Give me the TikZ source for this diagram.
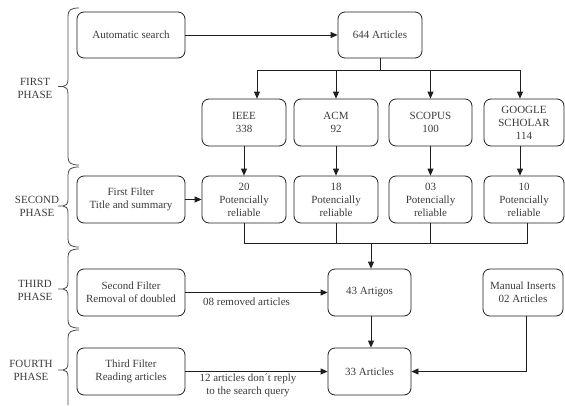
\documentclass[tikz,border=0pt]{standalone}
\usepackage{fontspec}
\setmainfont{Liberation Serif}
\usetikzlibrary{arrows.meta}
\definecolor{txt}{HTML}{3A3A3A}
\definecolor{lc}{HTML}{1E1E1E}
\tikzset{
  box/.style={draw=lc, line width=0.8pt, rounded corners=7pt, minimum height=47pt,
    inner sep=0pt, align=center, text=txt, font=\fontsize{11}{13}\selectfont},
  wide/.style={box, minimum width=108pt},
  src/.style={box, minimum width=84pt},
  arr/.style={draw=lc, line width=0.8pt, -{Triangle[length=7pt,width=6pt]}},
  plain/.style={draw=lc, line width=0.8pt},
  phase/.style={align=center, text=txt, font=\fontsize{11}{13}\selectfont, inner sep=0pt},
  lbl/.style={align=center, text=txt, font=\fontsize{11}{13}\selectfont, inner sep=1pt},
  brc/.style={draw=lc!80, line width=0.8pt},
}
\begin{document}
\begin{tikzpicture}[x=1pt,y=-1pt]
\useasboundingbox (0,0) rectangle (565,405);

% phase labels
\node[phase] (p1) at (35,88.5) {FIRST\\PHASE};
\node[phase] (p2) at (37,206) {SECOND\\PHASE};
\node[phase] (p3) at (35,290) {THIRD\\PHASE};
\node[phase] (p4) at (31,370.5) {FOURTH\\PHASE};

% braces
\draw[brc] (79,8) .. controls (71,8) and (68,10) .. (68,16) -- (68,79) .. controls (68,84) and (66,86.5) .. (63,86.5) -- (58,86.5);
\draw[brc] (63,86.5) .. controls (66,86.5) and (68,89) .. (68,94) -- (68,157) .. controls (68,163) and (71,165) .. (79,165);

\draw[brc] (79,167) .. controls (71,167) and (68,169) .. (68,175) -- (68,199) .. controls (68,204) and (66,206) .. (63,206) -- (58,206);
\draw[brc] (63,206) .. controls (66,206) and (68,208) .. (68,213) -- (68,239) .. controls (68,245) and (71,247) .. (79,247);

\draw[brc] (79,249) .. controls (71,249) and (68,251) .. (68,257) -- (68,282) .. controls (68,287) and (66,289) .. (63,289) -- (58,289);
\draw[brc] (63,289) .. controls (66,289) and (68,291) .. (68,296) -- (68,320) .. controls (68,326) and (71,328) .. (79,328);

\draw[brc] (79,330) .. controls (71,330) and (68,332) .. (68,338) -- (68,363) .. controls (68,368) and (66,370) .. (63,370) -- (58,370);
\draw[brc] (63,370) .. controls (66,370) and (68,372) .. (68,377) -- (68,405);

% row 1
\node[wide] (auto) at (131,35) [minimum height=46pt] {Automatic search};
\node[src] (a644) at (380,35) [minimum height=46pt] {644 Articles};

% sources
\node[src] (ieee) at (244,122.5) {IEEE\\338};
\node[src] (acm) at (336,122.5) {ACM\\92};
\node[src, minimum width=83pt] (scopus) at (430.5,122.5) {SCOPUS\\100};
\node[box, minimum width=80pt] (google) at (524,122.5) {GOOGLE\\SCHOLAR\\114};

% row 2
\node[wide] (ff) at (131,199.5) {First Filter\\Title and summary};
\node[src] (r20) at (244,199.5) {20\\Potencially\\reliable};
\node[src] (r18) at (336,199.5) {18\\Potencially\\reliable};
\node[src, minimum width=83pt] (r03) at (430.5,199.5) {03\\Potencially\\reliable};
\node[box, minimum width=80pt] (r10) at (524,199.5) {10\\Potencially\\reliable};

% row 3
\node[wide] (sf) at (131,292.5) {Second Filter\\Removal of doubled};
\node[src, minimum width=83pt] (a43) at (369.5,292.5) {43 Artigos};
\node[box, minimum width=80pt] (manual) at (523,292.5) {Manual Inserts\\02 Articles};

% row 4
\node[wide] (tf) at (131,371.5) {Third Filter\\Reading articles};
\node[src, minimum width=83pt] (a33) at (369.5,371.5) {33 Articles};

% connectors
\draw[arr] (auto) -- (a644);

\coordinate (split) at (380,70);
\draw[plain] (a644.south) -- (split);
\draw[arr] (split) -| ([xshift=13pt]ieee.north);
\draw[arr] (split) -| (acm.north);
\draw[arr] (split) -| (scopus.north);
\draw[arr] (split) -| ([xshift=-4pt]google.north);

\draw[arr] (ieee) -- (r20);
\draw[arr] (acm) -- (r18);
\draw[arr] (scopus) -- (r03);
\draw[arr] ([xshift=-4pt]google.south) -- ([xshift=-4pt]r10.north);

\draw[arr] (ff) -- (r20);

\coordinate (merge) at (371,243);
\draw[plain] (r20.south) |- (merge);
\draw[plain] (r18.south) |- (merge);
\draw[plain] (r03.south) |- (merge);
\draw[plain] ([xshift=3pt]r10.south) |- (merge);
\draw[arr] (merge) -- (merge |- a43.north);

\draw[arr] (sf) -- node[lbl, below=4pt, pos=0.43] (l08) {08 removed articles} (a43);
\draw[arr] (tf) -- node[lbl, below=1pt, pos=0.44] (l12) {12 articles don\textasciiacute t reply\\to the search query} (a33);

\draw[arr] ([xshift=1.5pt]a43.south) -- ([xshift=1.5pt]a33.north);
\draw[arr] ([xshift=3pt]manual.south) |- (a33.east);
\end{tikzpicture}
\end{document}
